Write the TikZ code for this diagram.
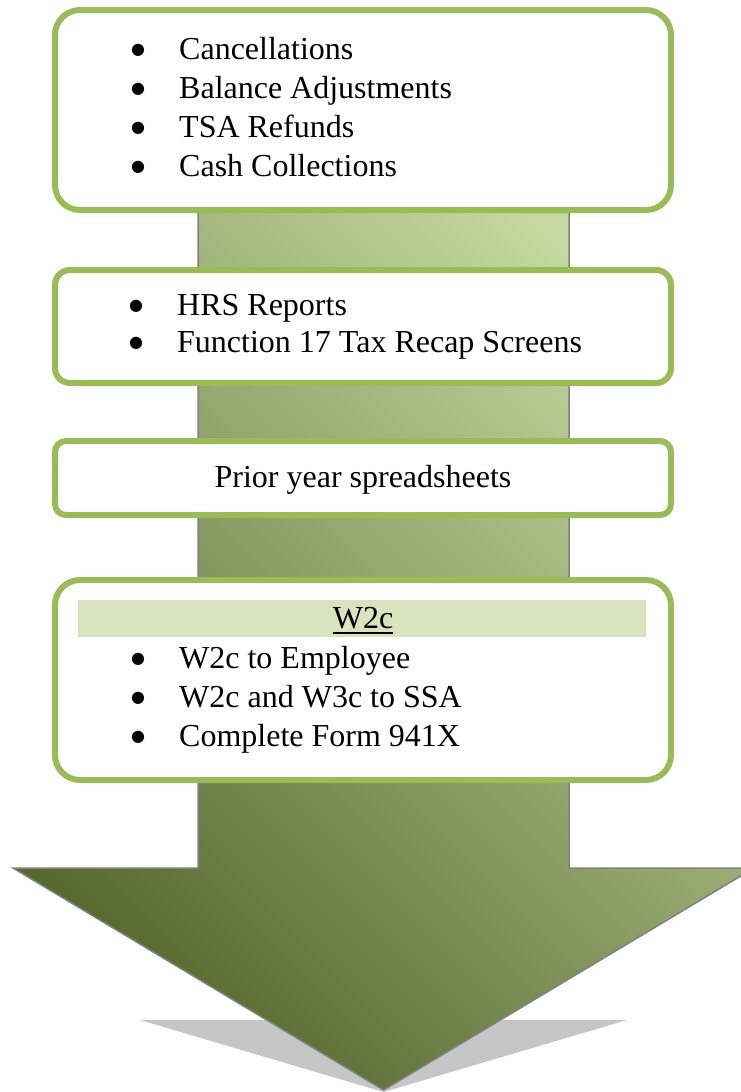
\documentclass[tikz,border=0pt]{standalone}
\usepackage{fontspec}
\setmainfont{Liberation Serif}
\newfontfamily\dotfont{DejaVu Sans}
\definecolor{boxline}{HTML}{9BBB59}
\definecolor{band}{HTML}{D7E4BD}
\definecolor{arrowdark}{HTML}{56692F}
\definecolor{arrowlight}{HTML}{C4D8A0}
\definecolor{shadowgray}{HTML}{C6C6C6}
\tikzset{
  stage/.style={draw=boxline, line width=6pt, fill=white, minimum width=616pt, inner sep=0pt},
  item/.style={anchor=base west, inner sep=0pt, font=\fontsize{32}{39}\selectfont},
  label/.style={anchor=base, inner sep=0pt, font=\fontsize{32}{39}\selectfont}
}
\newcommand{\bul}{\makebox[49pt][l]{\hspace*{1pt}\raisebox{5pt}{\dotfont\fontsize{16}{16}\selectfont ●}}}
\begin{document}
\begin{tikzpicture}[x=1pt,y=-1pt]
\useasboundingbox (0,0) rectangle (741,1092);
\fill[shadowgray] (140,1020) -- (627,1020) -- (383.5,1092) -- cycle;
\shade[draw=gray, line width=1.5pt, bottom color=arrowdark, top color=arrowlight, shading angle=-45]
  (198,200) -- (569,200) -- (569,868) -- (754,868) -- (383.5,1090) -- (13,868) -- (198,868) -- cycle;
\node[stage, rounded corners=25pt, minimum height=200pt] (inputs) at (363,110) {};
\node[stage, rounded corners=15pt, minimum height=113pt] (reports) at (363,326.5) {};
\node[stage, rounded corners=11pt, minimum height=74pt] (prior) at (363,478) {};
\node[stage, rounded corners=25pt, minimum height=200pt] (forms) at (363,680) {};
\foreach \txt [count=\i] in {Cancellations, Balance Adjustments, TSA Refunds, Cash Collections}
  \node[item] (in\i) at (130,20+39*\i) {\bul\txt};
\foreach \txt [count=\i] in {HRS Reports, Function 17 Tax Recap Screens}
  \node[item] (rep\i) at (128,278+37*\i) {\bul\txt};
\node[label] (priortext) at (363,487) {Prior year spreadsheets};
\node[fill=band, minimum width=568pt, minimum height=37pt, inner sep=0pt] (band) at (362,618.5) {};
\node[label] (w2c) at (363,628) {W2c};
\draw[line width=1.6pt] ([yshift=-5pt]w2c.base west) -- ([yshift=-5pt]w2c.base east);
\foreach \txt [count=\i] in {W2c to Employee, W2c and W3c to SSA, Complete Form 941X}
  \node[item] (form\i) at (130,629+39.3*\i) {\bul\txt};
\end{tikzpicture}
\end{document}
